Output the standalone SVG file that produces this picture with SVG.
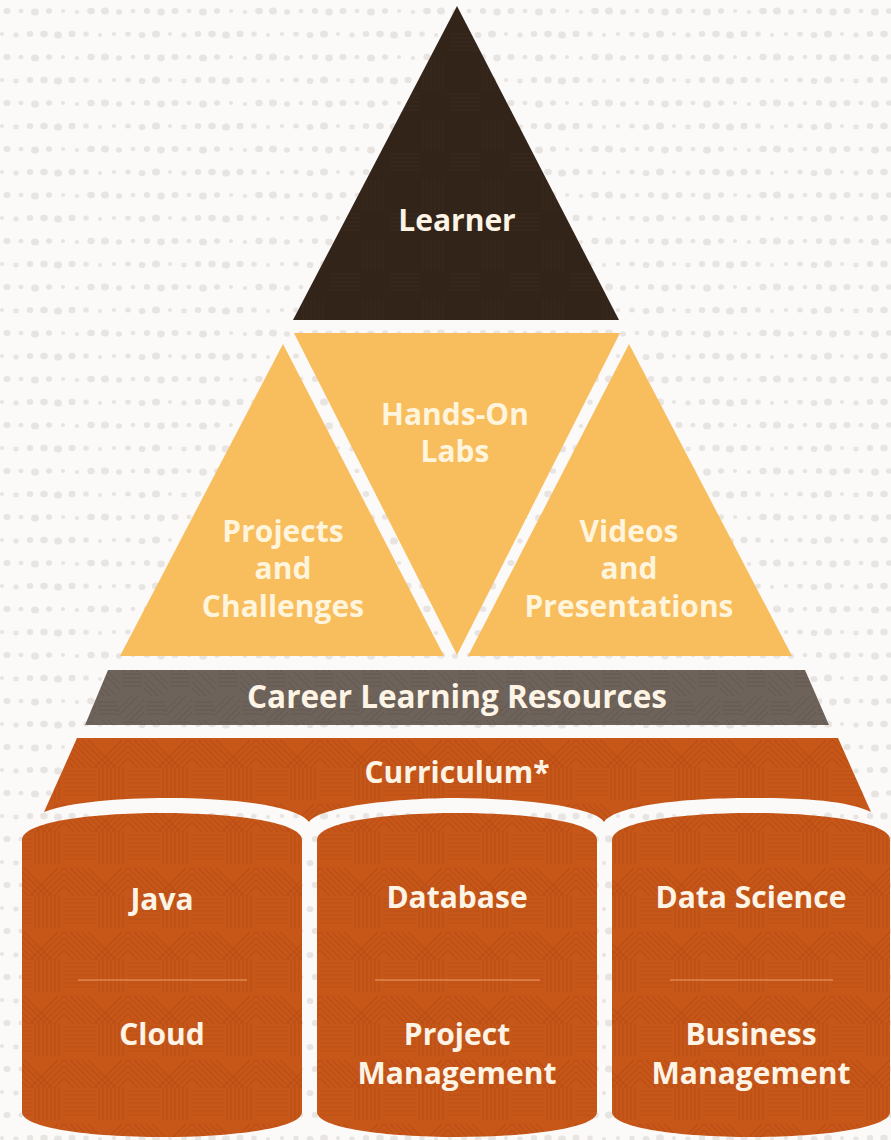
<svg xmlns="http://www.w3.org/2000/svg" width="891" height="1140" viewBox="0 0 891 1140">
<style>
.t{font-family:"Open Sans","Liberation Sans",sans-serif;font-weight:700;font-size:30px;text-anchor:middle}
.big{font-size:31.5px}
.lt{fill:#fdf4e6}
.yt{fill:#fff4dc}
.div{stroke:#eda06c;stroke-width:1.2}
</style>
<defs>
<pattern id="dots" width="168" height="46" patternUnits="userSpaceOnUse">
<rect width="168" height="46" fill="#fbfaf9"/>
<g fill="#e8e4e2">
<ellipse cx="7" cy="11" rx="3.5" ry="3"/><ellipse cx="21" cy="11" rx="2.5" ry="2.3"/><ellipse cx="35" cy="12" rx="4" ry="3.5"/><ellipse cx="49" cy="11" rx="3" ry="2.8"/><ellipse cx="63" cy="11" rx="2" ry="2"/><ellipse cx="77" cy="12" rx="2.2" ry="2"/><ellipse cx="91" cy="11" rx="3.8" ry="3.3"/><ellipse cx="105" cy="11" rx="4" ry="3.6"/><ellipse cx="119" cy="12" rx="3" ry="2.7"/><ellipse cx="133" cy="11" rx="2.3" ry="2.2"/><ellipse cx="147" cy="11" rx="3.2" ry="3"/><ellipse cx="161" cy="12" rx="3.8" ry="3.4"/>
<ellipse cx="2" cy="34" rx="2" ry="2"/><ellipse cx="16" cy="35" rx="2.6" ry="2.4"/><ellipse cx="30" cy="34" rx="3.2" ry="3"/><ellipse cx="44" cy="34" rx="3.8" ry="3.3"/><ellipse cx="58" cy="35" rx="4" ry="3.6"/><ellipse cx="72" cy="34" rx="3.5" ry="3.2"/><ellipse cx="86" cy="34" rx="2.8" ry="2.6"/><ellipse cx="100" cy="35" rx="2" ry="2"/><ellipse cx="114" cy="34" rx="2.2" ry="2"/><ellipse cx="128" cy="34" rx="2.8" ry="2.5"/><ellipse cx="142" cy="35" rx="3.4" ry="3.1"/><ellipse cx="156" cy="34" rx="4" ry="3.5"/>
</g>
</pattern>
<pattern id="weaveO" width="64" height="64" patternUnits="userSpaceOnUse">
<rect width="64" height="64" fill="#c75719"/>
<g stroke="#ba4e15" stroke-width="1.2" fill="none">
<path d="M0,3h32M0,7h32M0,11h32M0,15h32M0,19h32M0,23h32M0,27h32"/>
<path d="M35,0v32M39,0v32M43,0v32M47,0v32M51,0v32M55,0v32M59,0v32"/>
<path d="M0,36l28,28M0,42l22,22M0,48l16,16M0,54l10,10M6,36l28,28M12,36l28,28M18,36l28,28M24,36l28,28"/>
<path d="M64,36l-28,28M64,42l-22,22M64,48l-16,16M64,54l-10,10M58,36l-28,28"/>
</g>
</pattern>
<pattern id="weaveG" width="48" height="48" patternUnits="userSpaceOnUse">
<rect width="48" height="48" fill="#6e635a"/>
<g stroke="#62584f" stroke-width="1" fill="none">
<path d="M0,4l20,20M0,10l14,14M0,16l8,8M6,0l18,18M12,0l12,12"/>
<path d="M48,28l-20,20M48,34l-14,14M48,40l-8,8M42,24l-20,20M36,24l-16,16"/>
<path d="M26,2h20M26,6h20M26,10h20M26,14h20M2,30h20M2,34h20M2,38h20M2,42h20"/>
</g>
</pattern>
<pattern id="weaveD" width="60" height="60" patternUnits="userSpaceOnUse">
<rect width="60" height="60" fill="#33241a"/>
<g stroke="#39291e" stroke-width="1" fill="none">
<path d="M3,0v30M7,0v30M11,0v30M15,0v30M19,0v30M23,0v30"/>
<path d="M30,34h30M30,38h30M30,42h30M30,46h30M30,50h30"/>
</g>
</pattern>
</defs>
<rect width="891" height="1140" fill="url(#dots)"/>

<g id="node-learner">
<polygon points="457,6 293,320 619,320" fill="url(#weaveD)"/>
<text class="t lt" x="457" y="231">Learner</text>
</g>

<g id="node-projects">
<polygon points="283,344 120,656 444,656" fill="#f8bd5c"/>
<text class="t yt" x="283" y="542">Projects</text>
<text class="t yt" x="283" y="579">and</text>
<text class="t yt" x="283" y="617">Challenges</text>
</g>

<g id="node-handson">
<polygon points="294,333 620,333 457,655" fill="#f8bd5c"/>
<text class="t yt" x="455" y="425">Hands-On</text>
<text class="t yt" x="455" y="462">Labs</text>
</g>

<g id="node-videos">
<polygon points="629,344 468,656 792,656" fill="#f8bd5c"/>
<text class="t yt" x="629" y="542">Videos</text>
<text class="t yt" x="629" y="579">and</text>
<text class="t yt" x="629" y="617">Presentations</text>
</g>

<g id="node-career">
<polygon points="108,670 805,670 829,725 85,725" fill="url(#weaveG)"/>
<text class="t big lt" x="457" y="708">Career Learning Resources</text>
</g>

<g id="node-curriculum">
<path d="M77,738 L838,738 L871,812 C850,802 814,798 750,798 C680,798 615,806 604,822 C594,806 514,798 457,798 C400,798 320,806 309,822 C298,806 234,798 168,798 C120,798 70,802 44,812 Z" fill="url(#weaveO)"/>
<text class="t lt" x="457" y="783">Curriculum*</text>
</g>

<g id="node-java-cloud">
<path d="M22,840 C22,822 90,813 162,813 C234,813 302,822 302,840 L302,1112 C302,1128 234,1137 162,1137 C90,1137 22,1128 22,1112 Z" fill="url(#weaveO)"/>
<text class="t lt" x="162" y="910">Java</text>
<line class="div" x1="78" y1="980" x2="247" y2="980"/>
<text class="t lt" x="162" y="1045">Cloud</text>
</g>

<g id="node-database-pm">
<path d="M317,840 C317,822 385,813 457,813 C529,813 597,822 597,840 L597,1112 C597,1128 529,1137 457,1137 C385,1137 317,1128 317,1112 Z" fill="url(#weaveO)"/>
<text class="t lt" x="457" y="908">Database</text>
<line class="div" x1="375" y1="980" x2="540" y2="980"/>
<text class="t lt" x="457" y="1045">Project</text>
<text class="t lt" x="457" y="1084">Management</text>
</g>

<g id="node-datascience-bm">
<path d="M612,840 C612,822 680,813 751,813 C822,813 890,822 890,840 L890,1112 C890,1128 822,1137 751,1137 C680,1137 612,1128 612,1112 Z" fill="url(#weaveO)"/>
<text class="t lt" x="751" y="908">Data Science</text>
<line class="div" x1="670" y1="980" x2="833" y2="980"/>
<text class="t lt" x="751" y="1045">Business</text>
<text class="t lt" x="751" y="1084">Management</text>
</g>
</svg>
